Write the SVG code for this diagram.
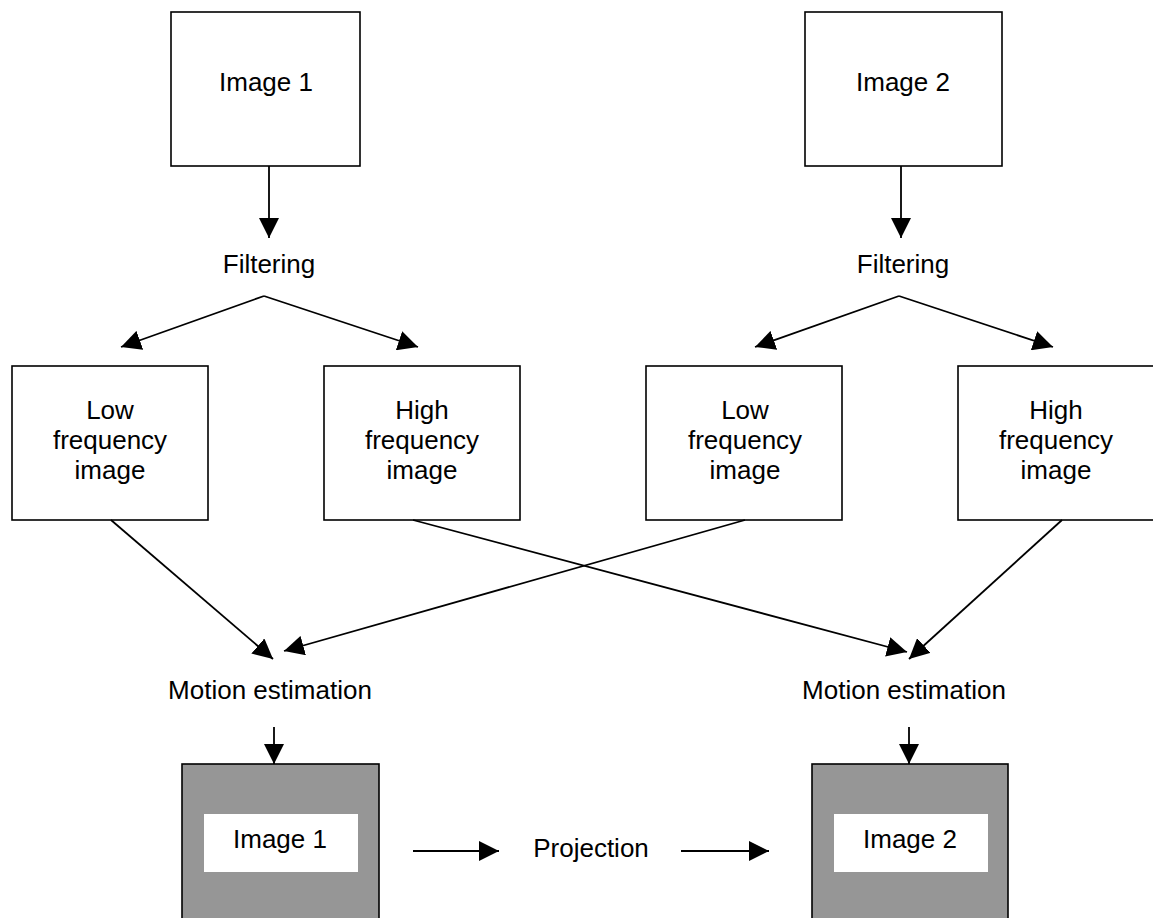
<svg xmlns="http://www.w3.org/2000/svg" width="1153" height="918" viewBox="0 0 1153 918">
  <style>
    .box { fill: #ffffff; stroke: #000000; stroke-width: 1.6; }
    .shade { fill: #969696; stroke: #000000; stroke-width: 1.6; }
    .inner { fill: #ffffff; stroke: none; }
    .lbl { font-family: "Liberation Sans", Arial, sans-serif; font-size: 26px; fill: #000000; text-anchor: middle; }
    .edge { fill: none; stroke: #000000; stroke-width: 1.8; marker-end: url(#head); }
  </style>
  <defs>
    <marker id="head" viewBox="0 0 20 20" refX="20" refY="10" markerWidth="20" markerHeight="20" markerUnits="userSpaceOnUse" orient="auto">
      <path d="M0,0 L20,10 L0,20 Z" fill="#000000"/>
    </marker>
  </defs>
  <rect width="1153" height="918" fill="#ffffff"/>

  <!-- source frames -->
  <g id="image1">
    <rect class="box" x="171" y="12" width="189" height="154"/>
    <text class="lbl" x="266" y="91">Image 1</text>
  </g>
  <g id="image2">
    <rect class="box" x="805" y="12" width="197" height="154"/>
    <text class="lbl" x="903" y="91">Image 2</text>
  </g>

  <!-- processing labels -->
  <g id="filtering1"><text class="lbl" x="269" y="273">Filtering</text></g>
  <g id="filtering2"><text class="lbl" x="903" y="273">Filtering</text></g>

  <!-- frequency bands -->
  <g id="low1">
    <rect class="box" x="12" y="366" width="196" height="154"/>
    <text class="lbl" x="110" y="419">Low</text>
    <text class="lbl" x="110" y="449">frequency</text>
    <text class="lbl" x="110" y="479">image</text>
  </g>
  <g id="high1">
    <rect class="box" x="324" y="366" width="196" height="154"/>
    <text class="lbl" x="422" y="419">High</text>
    <text class="lbl" x="422" y="449">frequency</text>
    <text class="lbl" x="422" y="479">image</text>
  </g>
  <g id="low2">
    <rect class="box" x="646" y="366" width="196" height="154"/>
    <text class="lbl" x="745" y="419">Low</text>
    <text class="lbl" x="745" y="449">frequency</text>
    <text class="lbl" x="745" y="479">image</text>
  </g>
  <g id="high2">
    <rect class="box" x="958" y="366" width="200" height="154"/>
    <text class="lbl" x="1056" y="419">High</text>
    <text class="lbl" x="1056" y="449">frequency</text>
    <text class="lbl" x="1056" y="479">image</text>
  </g>

  <g id="motion1"><text class="lbl" x="270" y="699">Motion estimation</text></g>
  <g id="motion2"><text class="lbl" x="904" y="699">Motion estimation</text></g>

  <!-- estimated frames -->
  <g id="result1">
    <rect class="shade" x="182" y="764" width="197" height="160"/>
    <rect class="inner" x="204" y="814" width="154" height="58"/>
    <text class="lbl" x="280" y="848">Image 1</text>
  </g>
  <g id="projection"><text class="lbl" x="591" y="857">Projection</text></g>
  <g id="result2">
    <rect class="shade" x="812" y="764" width="196" height="160"/>
    <rect class="inner" x="834" y="814" width="154" height="58"/>
    <text class="lbl" x="910" y="848">Image 2</text>
  </g>

  <!-- connectors -->
  <g id="connectors">
    <line class="edge" x1="269" y1="166" x2="269" y2="238"/>
    <line class="edge" x1="901" y1="166" x2="901" y2="238"/>

    <polyline class="edge" points="264,296 121,347" />
    <polyline class="edge" points="264,296 418,347" />
    <polyline class="edge" points="899,296 755,347" />
    <polyline class="edge" points="899,296 1053,347" />

    <line class="edge" x1="111" y1="520" x2="273" y2="659"/>
    <line class="edge" x1="745" y1="520" x2="284" y2="651"/>
    <line class="edge" x1="413" y1="520" x2="907" y2="652"/>
    <line class="edge" x1="1062" y1="520" x2="909" y2="659"/>

    <line class="edge" x1="274" y1="727" x2="274" y2="764"/>
    <line class="edge" x1="909" y1="727" x2="909" y2="764"/>

    <line class="edge" x1="413" y1="851" x2="499" y2="851"/>
    <line class="edge" x1="681" y1="851" x2="769" y2="851"/>
  </g>
</svg>
